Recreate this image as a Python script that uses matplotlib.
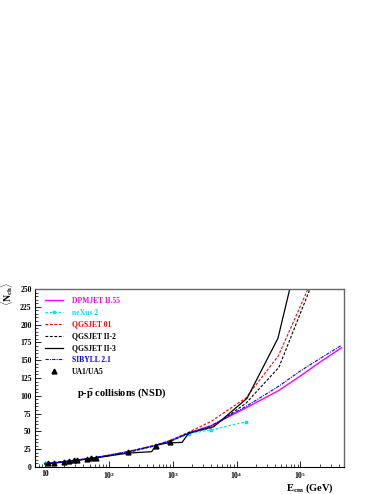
import matplotlib

matplotlib.use("Agg")
import matplotlib.pyplot as plt
from matplotlib.ticker import FixedLocator, MultipleLocator, FuncFormatter
import numpy as np

plt.rcParams["font.family"] = "Liberation Serif"
plt.rcParams["font.weight"] = "bold"
plt.rcParams["mathtext.fontset"] = "custom"
plt.rcParams["mathtext.rm"] = "Liberation Serif:bold"
plt.rcParams["mathtext.it"] = "Liberation Serif:bold"
plt.rcParams["mathtext.bf"] = "Liberation Serif:bold"

# ---- data ----
dpm_e = [10, 20, 30, 53, 63, 200, 546, 900, 1800, 4000, 14000, 45000, 1e5, 2e5, 4.4e5]
dpm_n = [4.5, 7.5, 9.5, 12.3, 13.2, 21.5, 30.5, 36.5, 48, 58, 83, 107, 128, 147, 167.5]

nex_e = [10, 20, 30, 53, 63, 200, 546, 900, 1800, 4000, 14000]
nex_n = [5, 7.5, 9.5, 12, 13, 21, 30, 36, 47, 52, 63.6]

q01_e = [10, 20, 30, 53, 63, 200, 546, 900, 1800, 4000, 14000, 45000, 1.31e5]
q01_n = [5, 7.5, 9.5, 12.3, 13.2, 21, 31, 37, 49, 64, 97, 156, 250]

q2_e = [10, 20, 30, 53, 63, 200, 546, 900, 1800, 4000, 14000, 46000, 1.41e5]
q2_n = [4.5, 7.2, 9.2, 12, 13, 20.5, 30, 35.5, 48, 55, 89.5, 140, 250]

q3_e = [10, 20, 30, 53, 63, 200, 470, 546, 900, 1400, 1800, 4400, 14600, 44400, 68000]
q3_n = [4, 7, 9, 11.8, 12.8, 19.5, 21.5, 31, 34, 34.5, 48, 56.6, 96.5, 180.7, 250]

sib_e = [10, 20, 30, 53, 63, 200, 546, 900, 1800, 4000, 14000, 45000, 1e5, 2e5, 4.4e5]
sib_n = [4.8, 7.6, 9.6, 12.4, 13.3, 21.5, 30.5, 36.5, 47, 58, 85, 113, 135, 152, 171]

ua_e = [11.3, 13.8, 20, 24, 28.8, 31.5, 45, 52.7, 62.5, 200, 546, 900]
ua_n = [5.5, 6.2, 7.6, 8.3, 9.2, 9.6, 11.3, 12.1, 12.9, 21.4, 29.4, 35.6]

fig = plt.figure(figsize=(3.82, 4.94), dpi=100)
ax = fig.add_axes([0.0916, 0.0547, 0.8089, 0.3603])

ax.plot(dpm_e, dpm_n, color="#ff00ff", lw=1.0, label="DPMJET II.55")
ax.plot(nex_e, nex_n, color="#00e5ee", lw=0.9, ls=(0, (2, 1.5)), marker="*", ms=2.5,
        label="neXus 2")
ax.plot(q01_e, q01_n, color="#ff0000", lw=0.8, ls=(0, (2.5, 1.5)), label="QGSJET 01")
ax.plot(q2_e, q2_n, color="black", lw=0.8, ls=(0, (2.5, 1.5)), label="QGSJET II-2")
ax.plot(q3_e, q3_n, color="black", lw=0.9, label="QGSJET II-3")
ax.plot(sib_e, sib_n, color="#0000ff", lw=0.8, ls=(0, (3, 1, 1, 1)), label="SIBYLL 2.1")
ax.plot(ua_e, ua_n, ls="none", marker="^", color="black", ms=3.5, label="UA1/UA5")

ax.set_xscale("log")
ax.set_xlim(7.0, 4.8e5)
ax.set_ylim(0, 250)

ax.yaxis.set_major_locator(MultipleLocator(25))
ax.yaxis.set_minor_locator(MultipleLocator(5))
ax.xaxis.set_major_locator(FixedLocator([10, 1e2, 1e3, 1e4, 1e5]))
minors = [m * 10 ** k for k in range(0, 6) for m in range(2, 10)]
ax.xaxis.set_minor_locator(FixedLocator(minors))


def xfmt(v, pos):
    k = int(round(np.log10(v)))
    if k == 1:
        return "10"
    return r"$10^{%d}$" % k


ax.xaxis.set_major_formatter(FuncFormatter(xfmt))
ax.tick_params(which="both", direction="in", top=False, right=False, labelsize=5.5, pad=2.5)
ax.tick_params(axis="x", pad=2)
ax.tick_params(which="major", length=4, width=0.6)
ax.tick_params(which="minor", length=2, width=0.5)

for s in ["top", "right"]:
    ax.spines[s].set_color("#666666")
    ax.spines[s].set_linewidth(1.0)
for s in ["left", "bottom"]:
    ax.spines[s].set_linewidth(0.8)

fig.text(0.018, 0.405, r"$\langle \mathrm{N_{ch}} \rangle$", rotation=90, fontsize=7,
         ha="center", va="center")
fig.text(0.81, 0.011, r"$\mathrm{E_{cm}}$ (GeV)", fontsize=7.5, ha="center", va="center")

leg = ax.legend(loc="upper left", bbox_to_anchor=(0.015, 0.985), frameon=False, fontsize=5.5,
                handlelength=2.4, handletextpad=1.15, labelspacing=0.5, borderaxespad=0.3)
for txt, line in zip(leg.get_texts(), leg.get_lines()):
    txt.set_color(line.get_color())

ax.text(0.135, 0.417, r"p-$\mathrm{\bar{p}}$ collisions (NSD)", transform=ax.transAxes,
        fontsize=7.5, ha="left", va="center")

fig.savefig("out.png", dpi=100)
